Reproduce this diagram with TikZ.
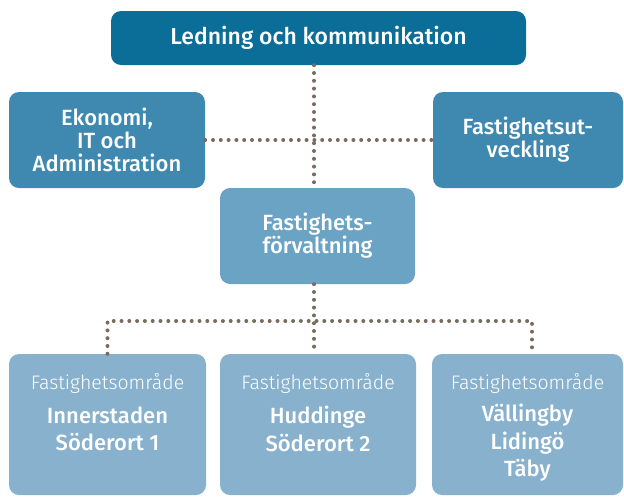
\documentclass[tikz,border=0pt]{standalone}
\usepackage{fontspec}
\setmainfont{Fira Sans}
\newfontfamily\lightfont{Fira Sans Light}
\newfontfamily\medfont{Fira Sans Medium}
\definecolor{topc}{HTML}{0A6E99}
\definecolor{secc}{HTML}{3F89B0}
\definecolor{midc}{HTML}{6BA3C5}
\definecolor{botc}{HTML}{88B1CD}
\definecolor{dotc}{HTML}{786C60}
\begin{document}
\begin{tikzpicture}[x=1pt,y=-1pt,
  box/.style={rounded corners=10pt, inner sep=0pt, text=white, align=center,
    font=\medfont\fontsize{22}{23}\selectfont},
  bottxt/.style={text=white, align=center, inner sep=0pt,
    font=\medfont\fontsize{22}{27.5}\selectfont},
  areatxt/.style={text=white, inner sep=0pt, font=\lightfont\fontsize{19.5}{21}\selectfont},
  dots/.style={draw=dotc, line width=4pt, line cap=round, dash pattern=on 0pt off 7.8pt}]
\useasboundingbox (0,0) rectangle (624,496);
\node[box, fill=topc, minimum width=415pt, minimum height=54pt, font=\medfont\fontsize{23}{23}\selectfont] (top) at (318.5,38) {Ledning och kommunikation};
\node[box, fill=secc, minimum width=196pt, minimum height=96pt] (left) at (107,140) {Ekonomi,\\IT och\\Administration};
\node[box, fill=secc, minimum width=190pt, minimum height=96pt] (right) at (528,140) {Fastighetsut-\\veckling};
\node[box, fill=midc, minimum width=195pt, minimum height=96pt] (mid) at (317.5,236) {Fastighets-\\förvaltning};
\node[box, fill=botc, minimum width=197pt, minimum height=141pt] (b1) at (107.5,424.5) {};
\node[box, fill=botc, minimum width=196pt, minimum height=141pt] (b2) at (318,424.5) {};
\node[box, fill=botc, minimum width=191pt, minimum height=141pt] (b3) at (527.5,424.5) {};
\node[areatxt] (a1) at (107.5,383) {Fastighetsområde};
\node[areatxt] (a2) at (318,383) {Fastighetsområde};
\node[areatxt] (a3) at (527.5,383) {Fastighetsområde};
\node[bottxt] (n1) at (107.5,429) {Innerstaden\\Söderort 1};
\node[bottxt] (n2) at (318,429) {Huddinge\\Söderort 2};
\node[bottxt] (n3) at (527.5,443) {Vällingby\\Lidingö\\Täby};
\coordinate (c) at (314,140);
\coordinate (h1) at (107.5,321);
\coordinate (h2) at (532,321);
\draw[dots] (top.south -| c) -- (mid.north -| c);
\draw[dots] (left.east) -- (right.west);
\draw[dots] (mid.south -| c) -- (b2.north -| c);
\draw[dots] (b1.north -| h1) -- (h1) -- (h2) -- (b3.north -| h2);
\end{tikzpicture}
\end{document}
